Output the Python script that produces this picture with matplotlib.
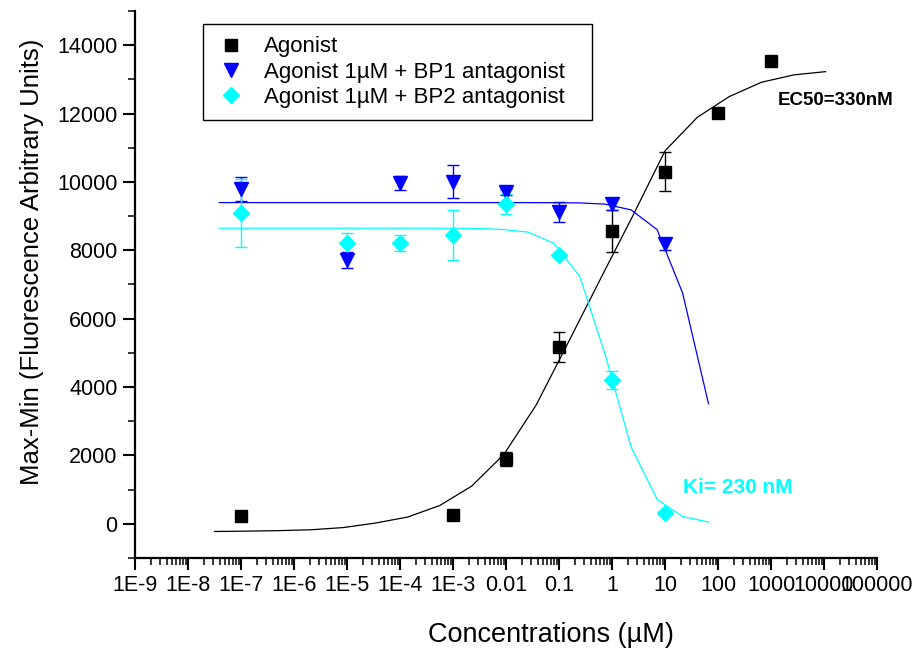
import matplotlib
matplotlib.use("Agg")
import matplotlib.pyplot as plt
from matplotlib.ticker import FixedLocator, FixedFormatter, LogLocator, MultipleLocator, NullFormatter

plt.rcParams['font.family'] = ['Liberation Sans', 'DejaVu Sans']

# measured points (concentration in uM)
ago_x = [1e-7, 1e-3, 0.01, 0.1, 1, 10, 100, 1000]
ago_y = [230, 270, 1900, 5180, 8570, 10300, 12020, 13530]
ago_err = [0, 0, 200, 440, 620, 565, 0, 0]

bp1_x = [1e-7, 1e-5, 1e-4, 1e-3, 0.01, 0.1, 1, 10]
bp1_y = [9780, 7720, 9970, 10010, 9700, 9110, 9340, 8190]
bp1_err = [350, 240, 200, 490, 90, 290, 160, 170]

bp2_x = [1e-7, 1e-5, 1e-4, 1e-3, 0.01, 0.1, 1, 10]
bp2_y = [9085, 8200, 8216, 8450, 9357, 7865, 4210, 322]
bp2_err = [990, 300, 243, 735, 300, 0, 260, 0]

# fitted curves
ago_fit_x = [3.16e-8, 1.29e-7, 5.13e-7, 2.09e-6, 8.51e-6, 3.39e-5, 1.38e-4, 5.62e-4,
             2.24e-3, 9.12e-3, 3.72e-2, 0.151, 0.603, 2.45, 10.0, 40.7, 162, 661,
             2690, 1.07e4]
ago_fit_y = [-225, -215, -200, -175, -110, 20, 196, 535, 1100, 2030, 3480, 5320,
             7160, 9000, 10910, 11890, 12494, 12915, 13130, 13225]

ant_fit_x = [3.89e-8, 1.20e-7, 3.63e-7, 1.12e-6, 3.39e-6, 1.05e-5, 3.16e-5, 9.77e-5,
             2.95e-4, 9.12e-4, 2.82e-3, 8.51e-3, 2.63e-2, 7.94e-2, 0.245, 0.741, 2.29,
             7.08, 21.4, 66.1]
bp1_fit_y = [9395, 9395, 9395, 9395, 9395, 9395, 9395, 9395, 9395, 9395, 9395, 9395,
             9394, 9392, 9385, 9350, 9181, 8605, 6754, 3509]
bp2_fit_y = [8646, 8646, 8646, 8646, 8646, 8646, 8646, 8646, 8646, 8644, 8640, 8610,
             8530, 8207, 7243, 4950, 2243, 711, 213, 50]

xtick_vals = [1e-9, 1e-8, 1e-7, 1e-6, 1e-5, 1e-4, 1e-3, 1e-2, 1e-1, 1, 10, 100, 1000, 1e4, 1e5]
xtick_text = ['1E-9', '1E-8', '1E-7', '1E-6', '1E-5', '1E-4', '1E-3', '0.01', '0.1',
              '1', '10', '100', '1000', '10000', '100000']

cyan = '#00ffff'
blue = '#0000ff'

fig = plt.figure(figsize=(9.18, 6.52), dpi=100)
ax = fig.add_axes([0.1471, 0.1442, 0.8083, 0.8390])

ax.plot(ago_fit_x, ago_fit_y, color='black', lw=0.9)
ax.plot(ant_fit_x, bp1_fit_y, color=blue, lw=0.9)
ax.plot(ant_fit_x, bp2_fit_y, color=cyan, lw=0.9)

ax.errorbar(ago_x, ago_y, yerr=ago_err, fmt='none', ecolor='black', elinewidth=1, capsize=4, capthick=1)
ax.errorbar(bp1_x, bp1_y, yerr=bp1_err, fmt='none', ecolor=blue, elinewidth=1, capsize=4, capthick=1)
ax.errorbar(bp2_x, bp2_y, yerr=bp2_err, fmt='none', ecolor=cyan, elinewidth=1, capsize=4, capthick=1)

ax.plot(ago_x, ago_y, 's', color='black', ms=8, ls='none', label='Agonist')
ax.plot(bp1_x, bp1_y, 'v', color=blue, ms=10, ls='none', label='Agonist 1µM + BP1 antagonist')
ax.plot(bp2_x, bp2_y, 'D', color=cyan, ms=8, ls='none', label='Agonist 1µM + BP2 antagonist')

ax.text(1355, 12380, 'EC50=330nM', fontsize=13.5, fontweight='bold', color='black', va='center')
ax.text(22.1, 1073, 'Ki= 230 nM', fontsize=15, fontweight='bold', color=cyan, va='center')

ax.set_xscale('log')
ax.set_xlim(1e-9, 1e5)
ax.set_ylim(-1000, 15000)
ax.xaxis.set_major_locator(FixedLocator(xtick_vals))
ax.xaxis.set_major_formatter(FixedFormatter(xtick_text))
ax.xaxis.set_minor_locator(LogLocator(base=10, subs=range(2, 10), numticks=30))
ax.xaxis.set_minor_formatter(NullFormatter())
ax.yaxis.set_major_locator(FixedLocator(range(0, 14001, 2000)))
ax.yaxis.set_minor_locator(MultipleLocator(1000))

for side in ('top', 'right'):
    ax.spines[side].set_visible(False)
for side in ('left', 'bottom'):
    ax.spines[side].set_linewidth(1.6)

ax.tick_params(which='major', direction='out', length=8.5, width=1.5, labelsize=15.5, pad=4)
ax.tick_params(which='minor', direction='out', length=5, width=1.1)

ax.set_xlabel('Concentrations (µM)', fontsize=19.5)
ax.set_ylabel('Max-Min (Fluorescence Arbitrary Units)', fontsize=18.5)
ax.xaxis.set_label_coords(0.561, -0.117)
ax.yaxis.set_label_coords(-0.123, 0.541)

# legend box stretched to a fixed width, leaving room on the right
leg = ax.legend(loc='upper left', bbox_to_anchor=(0.0916, 0.0, 0.524, 0.976), mode='expand',
                fontsize=16, frameon=True, fancybox=False, edgecolor='black', framealpha=1,
                borderaxespad=0, handlelength=1.4, handletextpad=0.8, labelspacing=0.2,
                borderpad=0.55, numpoints=1)
leg.get_frame().set_linewidth(1.0)

fig.savefig('out.png', dpi=100)
